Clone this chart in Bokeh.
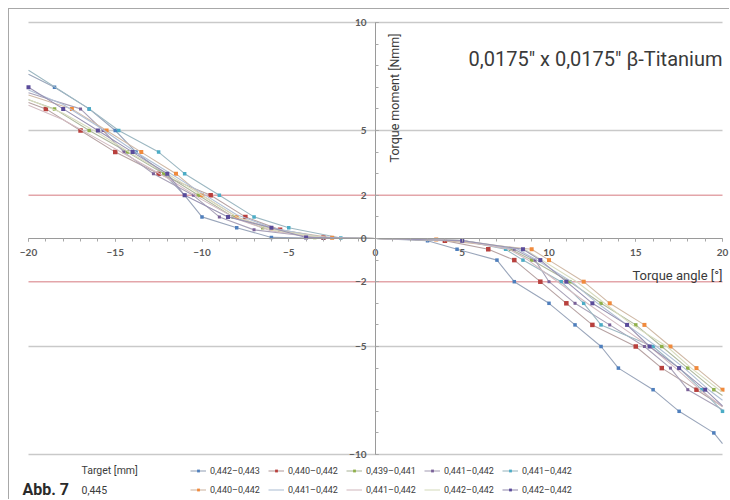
import math
from bokeh.plotting import figure
from bokeh.models import Range1d, FixedTicker, Label, Legend, LegendItem, ColumnDataSource, CDSView, IndexFilter
from bokeh.embed import file_html
from bokeh.resources import INLINE
from bokeh.core.properties import value

# ---------------- data (torque angle [deg] vs torque moment [Nmm]) ----------------
s1_angle = [-20, -18.5, -16.5, -15, -13.8, -12.2, -11, -10, -8, -6, -3, 0, 3, 4.7, 7, 8, 10, 11.5, 13, 14, 16, 17.5, 19.5, 20]
s1_torque = [7.6, 7, 6, 5, 4, 3, 2, 1, 0.5, 0.05, 0.01, 0, -0.1, -0.5, -1, -2, -3, -4, -5, -6, -7, -8, -9, -9.5]

s2_angle = [-20, -19, -17, -15, -12.5, -9.5, -7.5, -5.5, -3, 0, 4, 6.5, 8, 9.5, 11, 12.5, 15, 16.5, 18.5, 20]
s2_torque = [6.3, 6, 5, 4, 3, 2, 1, 0.4, 0.05, 0, -0.1, -0.5, -1, -2, -3, -4, -5, -6, -7, -7.78]

s3_angle = [-20, -18.5, -16.5, -14.3, -12.2, -10.2, -8.2, -6.5, -3.5, 0, 5, 7.8, 9, 11.2, 13, 15, 16.5, 18, 19.5, 20]
s3_torque = [6.42, 6, 5, 4, 3, 2, 1, 0.5, 0.05, 0, -0.1, -0.5, -1, -2, -3, -4, -5, -6, -7, -7.27]

s4_angle = [-20, -17, -15.7, -14.5, -12.8, -10.5, -9, -7, -3, 0, 5, 8, 9.2, 10, 11.5, 13.5, 15.5, 17, 18, 20]
s4_torque = [6.75, 6, 5, 4, 3, 2, 1, 0.4, 0.02, 0, -0.1, -0.5, -1, -2, -3, -4, -5, -6, -7, -7.93]

s5_angle = [-20, -16.5, -14.8, -12.5, -11, -9, -7, -5, -2, 0, 5, 7.5, 8.5, 10.7, 12, 13, 16, 17.5, 18.8, 20]
s5_torque = [7.79, 6, 5, 4, 3, 2, 1, 0.5, 0.02, 0, -0.1, -0.5, -1, -2, -3, -4, -5, -6, -7, -8]

s6_angle = [-20, -17.5, -15.5, -13.5, -11.5, -10, -8, -6, -2.5, 0, 3.5, 9, 10, 12, 13.5, 15.5, 17, 18.5, 20]
s6_torque = [6.64, 6, 5, 4, 3, 2, 1, 0.45, 0.03, 0, -0.05, -0.5, -1, -2, -3, -4, -5, -6, -7]

s7_angle = [-20, -18, -16, -14, -12, -10, -8, -6, -3, 0, 5, 8.2, 9.3, 11.3, 12.8, 14.5, 16.2, 17.8, 19.2, 20]
s7_torque = [6.87, 6.2, 5.2, 4.1, 3.1, 2.1, 1.1, 0.5, 0.05, 0, -0.1, -0.5, -1, -2, -3, -4, -5, -6, -7, -7.49]

s8_angle = [-20, -18, -16, -14, -12, -10, -8, -6, -3, 0, 5, 7.7, 8.8, 10.5, 12.2, 14, 15.8, 17.3, 18.7, 20]
s8_torque = [6.17, 5.5, 4.6, 3.7, 2.8, 1.8, 0.9, 0.35, 0.03, 0, -0.1, -0.5, -1, -2, -3, -4, -5, -6, -7, -7.79]

s9_angle = [-20, -18, -16, -14, -12, -10, -8, -6, -3, 0, 5, 8.6, 9.6, 11.6, 13.2, 14.8, 16.8, 18.2, 19.8, 20]
s9_torque = [6.43, 5.8, 4.9, 3.9, 3.0, 2.0, 1.0, 0.4, 0.04, 0, -0.1, -0.5, -1, -2, -3, -4, -5, -6, -7, -7.1]

s10_angle = [-20, -18, -16, -14, -12, -11, -8.5, -6, -4, 0, 5, 8.5, 9.5, 11, 12.5, 14.5, 15.8, 17.5, 19, 20]
s10_torque = [7, 6, 5, 4, 3, 2, 1, 0.5, 0.05, 0, -0.1, -0.5, -1, -2, -3, -4, -5, -6, -7, -7.75]

# measured points that sit exactly on the plot edge (-20 / +20) and carry a marker
edge_marker_left = [False, False, False, False, False, False, False, False, False, True]
edge_marker_right = [False, False, False, False, True, True, False, False, False, False]

series_labels = ["0,442–0,443", "0,440–0,442", "0,439–0,441", "0,441–0,442", "0,441–0,442",
                 "0,440–0,442", "0,441–0,442", "0,441–0,442", "0,442–0,442", "0,442–0,442"]

x_ticks = [-20, -15, -10, -5, 0, 5, 10, 15, 20]
y_ticks = [-10, -5, -2, 0, 2, 5, 10]
gray_grid = [-10, -5, 5, 10]
red_lines = [-2, 2]

title_text = "0,0175″ x 0,0175″ β-Titanium"
y_title = "Torque moment [Nmm]"
x_title = "Torque angle [°]"
target_title = "Target [mm]"
target_value = "0,445"
fig_label = "Abb. 7"

# ---------------- styles / layout ----------------
marker_colors = ["#4f7fbd", "#b8403d", "#8fb04a", "#7a6199", "#4bacc6",
                 "#f08a3c", "#9fb6d8", "#c79aa8", "#c9d49c", "#5a4b9a"]
line_colors = ["#9aa6bb", "#b7a3a3", "#afb99e", "#a9a2b8", "#9db8c2",
               "#d0b9a6", "#b1c1d6", "#d3bcc2", "#d8dcbf", "#9993b3"]
marker_sizes = [3.5, 4.5, 3.5, 3, 3.5, 4, 0, 0, 0, 4]

FONT = "Roboto"
W, H = 721, 491                 # canvas (page origin at 9, 9)
X0, X1, Y0, Y1 = 28, 722, 22, 454   # page pixels of -20 / 20 and 10 / -10
SX = (X1 - X0) / 40.0
SY = (Y1 - Y0) / 20.0
x_range = Range1d(-20 - (X0 - 9) / SX, 20 + (730 - X1) / SX)
y_range = Range1d(-10 - (500 - Y1) / SY, 10 + (Y0 - 9) / SY)

all_series = [(s1_angle, s1_torque), (s2_angle, s2_torque), (s3_angle, s3_torque),
              (s4_angle, s4_torque), (s5_angle, s5_torque), (s6_angle, s6_torque),
              (s7_angle, s7_torque), (s8_angle, s8_torque), (s9_angle, s9_torque),
              (s10_angle, s10_torque)]

p = figure(width=W, height=H, x_range=x_range, y_range=y_range,
           output_backend="svg", toolbar_location=None, min_border=0)
p.styles = {"margin-left": "8px", "margin-top": "8px",
            "border-left": "1px solid #a8a8a8", "border-top": "1px solid #a8a8a8"}
p.outline_line_color = None
p.background_fill_color = "white"
p.border_fill_color = "white"
p.xgrid.visible = False
p.ygrid.visible = False

# horizontal reference lines across the plotted angle span
p.segment(x0=[x_ticks[0]] * len(gray_grid), x1=[x_ticks[-1]] * len(gray_grid),
          y0=gray_grid, y1=gray_grid, line_color="#c9c9c9", line_width=1.6)
p.segment(x0=[x_ticks[0]] * len(red_lines), x1=[x_ticks[-1]] * len(red_lines),
          y0=red_lines, y1=red_lines, line_color="#e3a5a9", line_width=1.6)

# axes crossing at origin
p.xaxis.fixed_location = 0
p.yaxis.fixed_location = 0
p.xaxis.bounds = (x_ticks[0], x_ticks[-1])
p.yaxis.bounds = (y_ticks[0], y_ticks[-1])
p.xaxis.ticker = FixedTicker(ticks=x_ticks, minor_ticks=list(range(-20, 21)))
p.yaxis.ticker = FixedTicker(ticks=y_ticks, minor_ticks=list(range(-10, 11)))
for ax in (p.xaxis, p.yaxis):
    ax.axis_line_color = "#9a9a9a"
    ax.axis_line_width = 1
    ax.major_tick_line_color = "#9a9a9a"
    ax.minor_tick_line_color = "#a8a8a8"
    ax.major_label_text_font = "Lato"
    ax.major_label_text_font_style = "bold"
    ax.major_label_text_font_size = "10px"
    ax.major_label_text_color = "#5a5a5a"
p.xaxis.major_tick_in = 0
p.xaxis.major_tick_out = 3
p.xaxis.minor_tick_in = 0
p.xaxis.minor_tick_out = 3
p.xaxis.major_label_standoff = 7
p.yaxis.major_tick_in = 3
p.yaxis.major_tick_out = 0
p.yaxis.minor_tick_in = 3
p.yaxis.minor_tick_out = 0
p.yaxis.major_label_standoff = 9

# series
items = []
for i, (ang, tq) in enumerate(all_series):
    src = ColumnDataSource(dict(x=ang, y=tq))
    rs = [p.line("x", "y", source=src, line_color=line_colors[i], line_width=1.1)]
    if marker_sizes[i] > 0:
        idx = [k for k, a in enumerate(ang)
               if (-20 < a < 20 and a != 0) or (a <= -20 and edge_marker_left[i])
               or (a >= 20 and edge_marker_right[i])]
        rs.append(p.scatter("x", "y", source=src, view=CDSView(filter=IndexFilter(idx)),
                            marker="square", size=marker_sizes[i],
                            fill_color=marker_colors[i], line_color=None))
    items.append(LegendItem(label=value(series_labels[i]), renderers=rs))

legend = Legend(items=items, orientation="horizontal", ncols=5, location=(181, 4),
                background_fill_alpha=0, border_line_color=None, padding=0, margin=0,
                spacing=6, glyph_width=16, glyph_height=7, label_height=13, label_width=52,
                label_standoff=4, label_text_font=FONT, label_text_font_size="9px",
                label_text_color="#3c3c3c")
p.add_layout(legend, "center")

# titles
p.add_layout(Label(x=20, y=8.32, text=title_text, text_align="right", text_baseline="alphabetic",
                   text_font=FONT, text_font_size="20px", text_color="#3a3a3a"))
p.add_layout(Label(x=1.55, y=3.52, text=y_title, angle=math.pi / 2, text_align="left",
                   text_baseline="bottom", text_font=FONT, text_font_size="12.5px",
                   text_color="#3a3a3a"))
p.add_layout(Label(x=20, y=-1.69, text=x_title, text_align="right", text_baseline="alphabetic",
                   text_font=FONT, text_font_size="13px", text_color="#3a3a3a"))

# footer texts (screen px from the canvas' bottom-left)
p.add_layout(Label(x=13, y=11, x_units="screen", y_units="screen", text=fig_label,
                   text_align="left", text_baseline="alphabetic", text_font=FONT,
                   text_font_style="bold", text_font_size="16px", text_color="#2a2a2a"))
p.add_layout(Label(x=72, y=30, x_units="screen", y_units="screen", text=target_title,
                   text_align="left", text_baseline="middle", text_font=FONT,
                   text_font_size="10.5px", text_color="#3c3c3c"))
p.add_layout(Label(x=72, y=11, x_units="screen", y_units="screen", text=target_value,
                   text_align="left", text_baseline="middle", text_font=FONT,
                   text_font_size="10.5px", text_color="#3c3c3c"))

open("out.html", "w").write(file_html(p, INLINE))
